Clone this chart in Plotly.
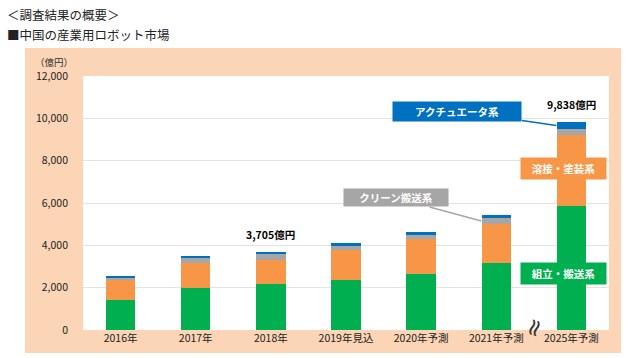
import plotly.graph_objects as go

categories = ["2016年", "2017年", "2018年", "2019年見込", "2020年予測", "2021年予測", "2025年予測"]
assembly = [1420, 1970, 2150, 2360, 2640, 3150, 5850]   # 組立・搬送系
welding = [940, 1180, 1180, 1440, 1640, 1880, 3350]     # 溶接・塗装系
clean = [110, 260, 240, 180, 230, 240, 290]             # クリーン搬送系
actuator = [80, 90, 135, 110, 130, 170, 348]            # アクチュエータ系
y_ticks = [0, 2000, 4000, 6000, 8000, 10000, 12000]
total_labels = {2: "3,705億円", 6: "9,838億円"}

FONT = "Noto Sans CJK JP"
GREEN = "#00B050"
ORANGE = "#F79646"
GRAY = "#A6A6A6"
BLUE = "#0070C0"
PEACH = "#FBD5B5"

L, R, T, B = 83, 21, 76, 28
PW, PH = 630 - L - R, 358 - T - B


def px(xp):
    return (xp - L) / PW


def py(yp):
    return (358 - B - yp) / PH


fig = go.Figure()
for name, vals, col in [("組立・搬送系", assembly, GREEN), ("溶接・塗装系", welding, ORANGE),
                        ("クリーン搬送系", clean, GRAY), ("アクチュエータ系", actuator, BLUE)]:
    fig.add_trace(go.Bar(x=categories, y=vals, name=name, marker=dict(color=col, line=dict(width=0)),
                         hoverinfo="skip"))

totals = [a + b + c + d for a, b, c, d in zip(assembly, welding, clean, actuator)]

anns = []
for i, txt in total_labels.items():
    anns.append(dict(x=categories[i], y=totals[i], text="<b>" + txt + "</b>", showarrow=False,
                     yanchor="bottom", yshift=8, font=dict(family=FONT, size=10.5, color="#000")))

anns.append(dict(x=6 - 0.2, y=assembly[6] + welding[6] + clean[6] + actuator[6] * 0.5, xref="x", yref="y",
                 text="<b>アクチュエータ系</b>", showarrow=True, arrowhead=0, arrowwidth=1.5, arrowcolor=BLUE,
                 axref="pixel", ayref="pixel", ax=-99, ay=-14, bgcolor=BLUE, width=124, height=15, borderpad=2,
                 font=dict(family=FONT, size=10.5, color="white")))
anns.append(dict(x=5 - 0.2, y=assembly[5] + welding[5] + clean[5] * 0.5, xref="x", yref="y",
                 text="<b>クリーン搬送系</b>", showarrow=True, arrowhead=0, arrowwidth=1.5, arrowcolor=GRAY,
                 axref="pixel", ayref="pixel", ax=-85, ay=-23, bgcolor=GRAY, width=100, height=13, borderpad=2,
                 font=dict(family=FONT, size=10.5, color="white")))
anns.append(dict(x=6 - 0.1, y=7630, xref="x", yref="y", text="<b>溶接・塗装系</b>", showarrow=False,
                 bgcolor=ORANGE, width=81, height=17, borderpad=2,
                 font=dict(family=FONT, size=10.5, color="white")))
anns.append(dict(x=6 - 0.1, y=2690, xref="x", yref="y", text="<b>組立・搬送系</b>", showarrow=False,
                 bgcolor=GREEN, width=81, height=17, borderpad=2,
                 font=dict(family=FONT, size=10.5, color="white")))
anns.append(dict(x=5.5, y=0, xref="x", yref="y", text="≈", showarrow=False, textangle=-72, yshift=2,
                 font=dict(family="DejaVu Sans", size=24, color="#333")))
anns.append(dict(x=px(33), y=py(62), xref="paper", yref="paper", text="（億円）", showarrow=False,
                 xanchor="left", yanchor="middle", font=dict(family=FONT, size=9.5, color="#333")))
anns.append(dict(x=px(5), y=py(14), xref="paper", yref="paper", text="＜調査結果の概要＞",
                 showarrow=False, xanchor="left", yanchor="middle", font=dict(family=FONT, size=12.5, color="#222")))
anns.append(dict(x=px(5), y=py(34), xref="paper", yref="paper", text="■中国の産業用ロボット市場",
                 showarrow=False, xanchor="left", yanchor="middle", font=dict(family=FONT, size=12.5, color="#222")))

fig.update_layout(
    width=630, height=358,
    margin=dict(l=L, r=R, t=T, b=B, autoexpand=False),
    barmode="stack", bargap=0.61,
    showlegend=False,
    paper_bgcolor="white", plot_bgcolor="white",
    font=dict(family=FONT, size=10.5, color="#333"),
    annotations=anns,
    shapes=[dict(type="rect", xref="paper", yref="paper", x0=px(25), x1=px(621),
                 y0=py(353), y1=py(48), fillcolor=PEACH, line=dict(width=0), layer="below"),
            dict(type="rect", xref="paper", yref="paper", x0=0, x1=1, y0=0, y1=1,
                 fillcolor="white", line=dict(width=0), layer="below")],
    xaxis=dict(showgrid=False, showline=False, ticks="", automargin=False,
               tickfont=dict(family=FONT, size=10.5, color="#222")),
    yaxis=dict(range=[0, 12000], tickvals=y_ticks, tickformat=",d", showgrid=True, gridcolor="#E3E3E3",
               gridwidth=1, zeroline=False, showline=False, ticks="", ticklabelstandoff=14, automargin=False,
               tickfont=dict(family=FONT, size=10.5, color="#222")),
)

fig.write_html("out.html", config={"displayModeBar": False},
               post_script="document.body.style.margin='0';document.body.style.overflow='hidden';")
